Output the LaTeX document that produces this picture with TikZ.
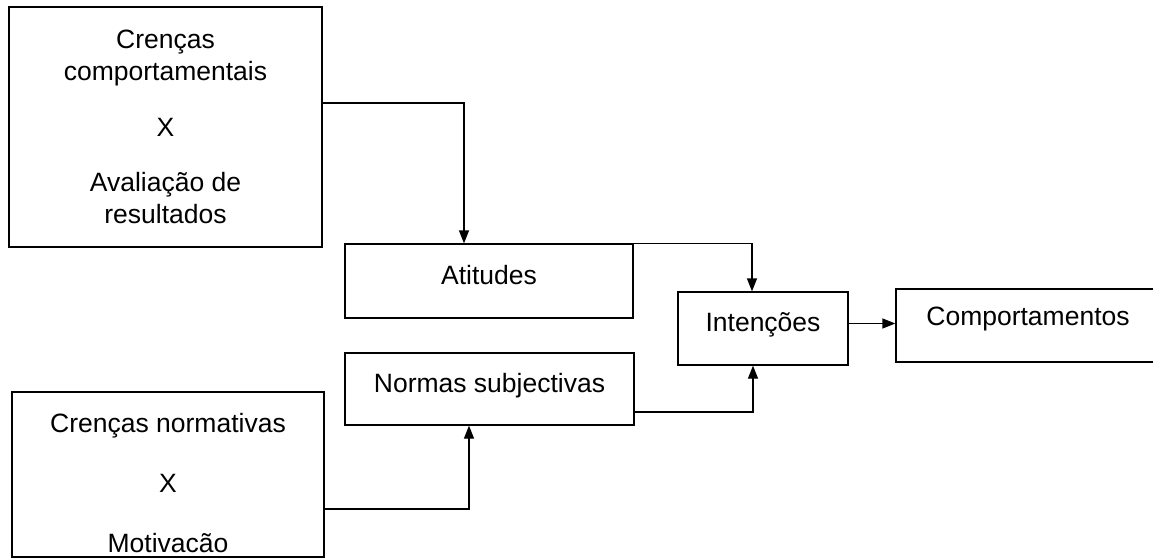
\documentclass[tikz,border=0pt]{standalone}
\usepackage{fontspec}
\setmainfont{Liberation Sans}
\usetikzlibrary{arrows.meta}

\tikzset{
  box/.style={draw, line width=1.3pt, inner sep=0pt, align=center,
    font=\fontsize{26.5}{32}\selectfont},
  flow/.style={line width=1.3pt, -{Triangle[length=13pt,width=10pt]}}
}

\begin{document}
\begin{tikzpicture}[x=1pt,y=-1pt]

\useasboundingbox[fill=white] (0,0) rectangle (1153,559);

% belief boxes on the left
\node[box, minimum width=313pt, minimum height=240pt] (crencas) at (165.5,127)
    {Crenças\\comportamentais\\[24pt]X\\[23pt]Avaliação de\\resultados};
\node[box, minimum width=312pt, minimum height=165pt] (normativas) at (168,474.5)
    {\rule{0pt}{37pt}Crenças normativas\\[28pt]X\\[28pt]Motivacão};

% middle and right boxes
\node[box, minimum width=288pt, minimum height=74pt, text height=18pt, text depth=11pt] (atitudes) at (489,281) {Atitudes};
\node[box, minimum width=289pt, minimum height=72pt, text height=18pt, text depth=11pt] (normas) at (489.5,389) {Normas subjectivas};
\node[box, minimum width=170pt, minimum height=73pt, text height=18pt, text depth=12pt] (intencoes) at (763,328.5) {Intenções};
\node[box, minimum width=264pt, minimum height=73pt, text height=18pt, text depth=18pt] (comport) at (1028,325.5) {Comportamentos};

\coordinate (i-out) at ([yshift=5pt]intencoes.east);

\draw[flow] ([yshift=24pt]crencas.east) -| ([xshift=-25pt]atitudes.north);
\draw[flow] ([yshift=-34.5pt]normativas.east) -| ([xshift=-20.5pt]normas.south);
\draw[flow] (atitudes.north east) -| ([xshift=-11pt]intencoes.north);
\draw[flow] ([yshift=-23pt]normas.east) -| ([xshift=-10pt]intencoes.south);
\draw[flow] (i-out) -- (i-out -| comport.west);

\end{tikzpicture}
\end{document}
